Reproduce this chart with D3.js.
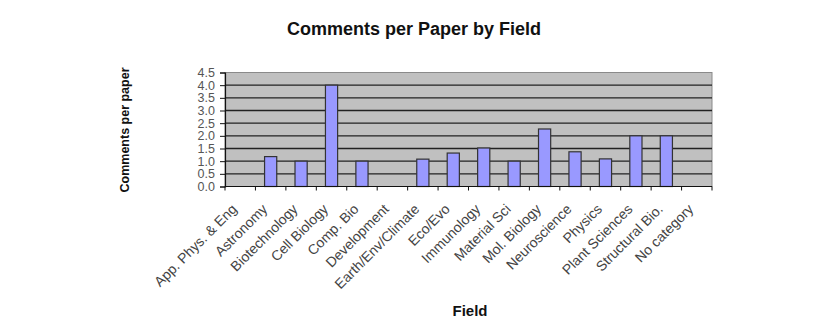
<!DOCTYPE html>
<html>
<head>
<meta charset="utf-8">
<script src="https://cdn.jsdelivr.net/npm/d3@7"></script>
<style>
  html, body { margin: 0; padding: 0; background: #fff; }
  svg { display: block; font-family: "Liberation Sans", Arial, sans-serif; }
</style>
</head>
<body>
<svg id="chart" width="818" height="320"></svg>
<script>
// Average number of comments per paper, grouped by field
const fields = [
  "App. Phys. & Eng", "Astronomy", "Biotechnology", "Cell Biology", "Comp. Bio",
  "Development", "Earth/Env/Climate", "Eco/Evo", "Immunology", "Material Sci",
  "Mol. Biology", "Neuroscience", "Physics", "Plant Sciences", "Structural Bio.",
  "No category"
];
const commentsPerPaper = [
  0, 1.18, 1.0, 4.0, 1.0,
  0, 1.08, 1.32, 1.52, 1.0,
  2.27, 1.37, 1.09, 2.0, 2.0,
  0
];
const yTicks = [0, 0.5, 1.0, 1.5, 2.0, 2.5, 3.0, 3.5, 4.0, 4.5];

const svg = d3.select("#chart");
const plot = { left: 225, right: 712, top: 72.5, bottom: 186.5 };

const x = d3.scaleBand()
  .domain(fields)
  .range([plot.left, plot.right])
  .paddingInner(0.6)
  .paddingOuter(0.3);

const xCat = d3.scaleBand()
  .domain(fields)
  .range([plot.left, plot.right]);

const y = d3.scaleLinear()
  .domain([0, 4.5])
  .range([plot.bottom, plot.top]);

// Plot area background
svg.append("rect")
  .attr("x", plot.left).attr("y", plot.top)
  .attr("width", plot.right - plot.left)
  .attr("height", plot.bottom - plot.top)
  .attr("fill", "#c0c0c0")
  .attr("stroke", "#8a8a8a")
  .attr("stroke-width", 1);

// Horizontal gridlines
svg.append("g")
  .selectAll("line")
  .data(yTicks.filter(t => t > 0 && t < 4.5))
  .join("line")
  .attr("x1", plot.left).attr("x2", plot.right)
  .attr("y1", d => y(d)).attr("y2", d => y(d))
  .attr("stroke", "#222")
  .attr("stroke-width", 1.3);

// Bars
svg.append("g")
  .selectAll("rect")
  .data(fields.map((f, i) => ({ f, v: commentsPerPaper[i] })).filter(d => d.v > 0))
  .join("rect")
  .attr("x", d => x(d.f))
  .attr("y", d => y(d.v))
  .attr("width", x.bandwidth())
  .attr("height", d => y(0) - y(d.v))
  .attr("fill", "#9999ff")
  .attr("stroke", "#333")
  .attr("stroke-width", 1.2);

// Y axis
const yAxis = svg.append("g")
  .attr("transform", `translate(${plot.left},0)`)
  .call(d3.axisLeft(y).tickValues(yTicks).tickFormat(d3.format(".1f")).tickSize(5).tickPadding(5));
yAxis.select(".domain").attr("stroke", "#111").attr("stroke-width", 1.2);
yAxis.selectAll(".tick line").attr("stroke", "#111");
yAxis.selectAll(".tick text")
  .attr("font-size", 12.5)
  .attr("font-family", "Liberation Sans, Arial, sans-serif")
  .attr("fill", "#555");

// X axis: ticks at category boundaries
const xAxis = svg.append("g")
  .attr("transform", `translate(0,${plot.bottom})`);
xAxis.append("line")
  .attr("x1", plot.left).attr("x2", plot.right)
  .attr("stroke", "#111").attr("stroke-width", 1.2);
xAxis.selectAll("line.tick")
  .data(fields.concat(["__end"]))
  .join("line")
  .attr("class", "tick")
  .attr("x1", (d, i) => plot.left + i * xCat.step())
  .attr("x2", (d, i) => plot.left + i * xCat.step())
  .attr("y1", 0).attr("y2", 4)
  .attr("stroke", "#111");

xAxis.selectAll("text")
  .data(fields)
  .join("text")
  .attr("transform", d => `translate(${xCat(d) + xCat.bandwidth() / 2 - 6},20) rotate(-45)`)
  .attr("text-anchor", "end")
  .attr("dy", "0.35em")
  .attr("font-size", 14)
  .attr("fill", "#444")
  .text(d => d);

// Titles
svg.append("text")
  .attr("x", 414).attr("y", 35)
  .attr("text-anchor", "middle")
  .attr("font-size", 18)
  .attr("font-weight", "bold")
  .attr("fill", "#111")
  .text("Comments per Paper by Field");

svg.append("text")
  .attr("transform", "translate(129,130) rotate(-90)")
  .attr("text-anchor", "middle")
  .attr("font-size", 12.5)
  .attr("font-weight", "bold")
  .attr("fill", "#111")
  .text("Comments per paper");

svg.append("text")
  .attr("x", 470).attr("y", 316)
  .attr("text-anchor", "middle")
  .attr("font-size", 15)
  .attr("font-weight", "bold")
  .attr("fill", "#111")
  .text("Field");
</script>
</body>
</html>
